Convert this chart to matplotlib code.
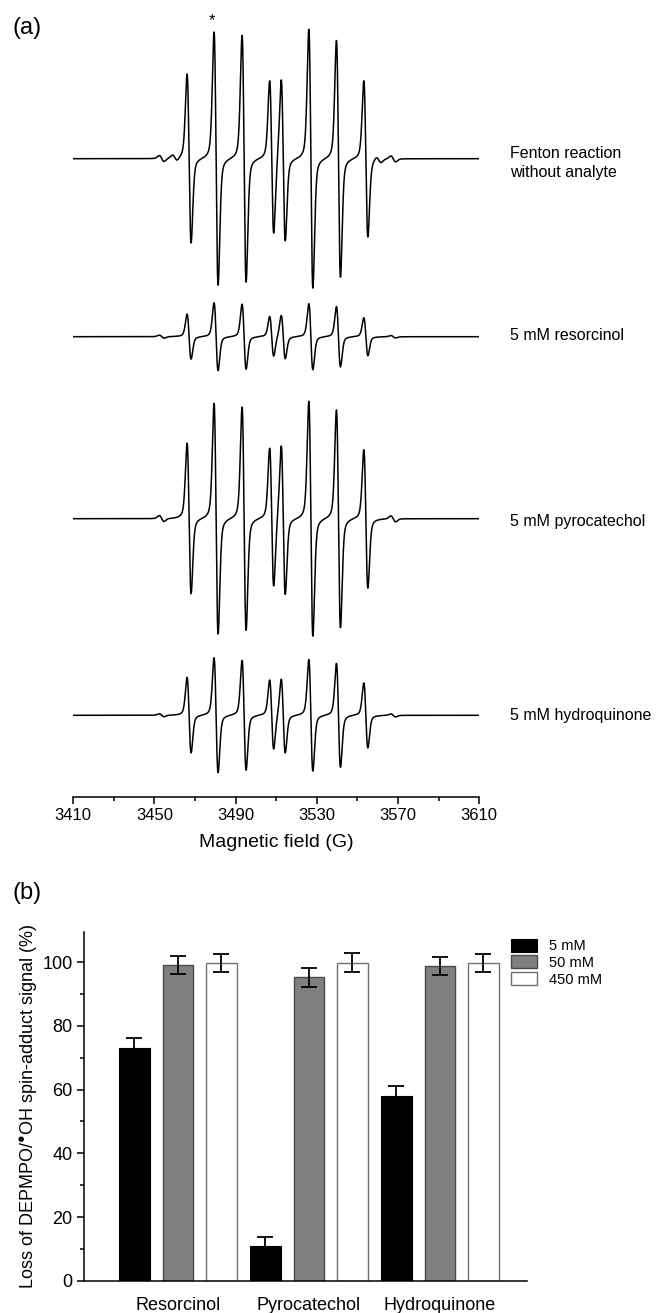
import numpy as np
import matplotlib
matplotlib.use("Agg")
import matplotlib.pyplot as plt
from matplotlib.ticker import MultipleLocator

plt.rcParams['font.family'] = ['Liberation Sans', 'DejaVu Sans']
plt.rcParams['mathtext.fontset'] = 'custom'
plt.rcParams['mathtext.rm'] = 'Liberation Sans'

# ---- panel (a): EPR spectra, DEPMPO/OH lines ----
line_pos = [3467.1, 3480.4, 3494.2, 3507.8, 3513.5, 3527.1, 3540.7, 3554.2]
amp_fenton = [84.5, 126.7, 123.5, 77.0, 81.3, 129.5, 118.4, 78.2]
amp_resorcinol = [22.5, 33.9, 32.5, 20.0, 21.8, 33.0, 30.2, 19.0]
amp_pyrocatechol = [75.3, 115.4, 111.7, 69.7, 75.0, 117.5, 108.9, 69.2]
amp_hydroquinone = [37.8, 57.5, 54.9, 34.9, 37.2, 55.8, 52.0, 32.5]

# weak satellite lines
sat_pos = [3453.6, 3460.1, 3560.5, 3567.7]
sat_fenton = [3.0, 3.0, 3.0, 3.0]
sat_resorcinol = [1.5, 0.0, 0.0, 1.2]
sat_pyrocatechol = [3.0, 0.0, 0.0, 3.0]
sat_hydroquinone = [1.5, 0.0, 0.0, 1.5]

spec_labels = ["Fenton reaction\nwithout analyte", "5 mM resorcinol",
               "5 mM pyrocatechol", "5 mM hydroquinone"]
spec_offsets = [638.3, 460.3, 278.3, 81.7]

# ---- panel (b): bar chart ----
compounds = ["Resorcinol", "Pyrocatechol", "Hydroquinone"]
conc_labels = ["5 mM", "50 mM", "450 mM"]
loss_5 = [73.0, 11.0, 58.1]
loss_50 = [99.2, 95.3, 98.8]
loss_450 = [99.8, 99.9, 99.9]
err_5 = [3.1, 2.8, 3.1]
err_50 = [2.9, 3.0, 2.8]
err_450 = [2.9, 2.9, 2.8]


def deriv_line(x, x0, a, sig=1.0, gam=1.7, eta=0.3):
    u = (x - x0) / sig
    g = -u * np.exp(-u ** 2 / 2) / np.exp(-0.5)
    v = (x - x0) / gam
    l = (-2 * v / (1 + v ** 2) ** 2) / 0.6495
    return a * ((1 - eta) * g + eta * l)


def spectrum(x, amps, samps):
    y = np.zeros_like(x)
    for p, a in zip(line_pos, amps):
        y += deriv_line(x, p, a)
    for p, a in zip(sat_pos, samps):
        y += deriv_line(x, p, a, sig=1.2, gam=1.8, eta=0.2)
    return y


W, H = 656, 1313
fig = plt.figure(figsize=(W / 100, H / 100), dpi=100)


def px_axes(x0, y0, x1, y1):
    return fig.add_axes([x0 / W, 1 - y1 / H, (x1 - x0) / W, (y1 - y0) / H])


ax1 = px_axes(73.2, 10, 479.1, 797)
field = np.linspace(3410, 3610, 8001)
all_amps = [amp_fenton, amp_resorcinol, amp_pyrocatechol, amp_hydroquinone]
all_sats = [sat_fenton, sat_resorcinol, sat_pyrocatechol, sat_hydroquinone]
label_dy = [-4, 1, -3, 0]
for amps, sats, off, lab, dy in zip(all_amps, all_sats, spec_offsets, spec_labels, label_dy):
    ax1.plot(field, spectrum(field, amps, sats) + off, color='black', lw=1.1)
    ax1.text(3625.0, off + dy, lab, fontsize=11.5, va='center', ha='left', linespacing=1.3)

ax1.text(3478.6, 776, "*", fontsize=12, ha='center', va='center')
ax1.set_xlim(3410, 3610)
ax1.set_ylim(0, 787)
ax1.set_yticks([])
for s in ['top', 'left', 'right']:
    ax1.spines[s].set_visible(False)
ax1.spines['bottom'].set_linewidth(1.1)
ax1.set_xticks(np.arange(3410, 3611, 40))
ax1.set_xticks(np.arange(3430, 3611, 40), minor=True)
ax1.tick_params(axis='x', which='major', length=5, width=1.1, labelsize=12, pad=3)
ax1.tick_params(axis='x', which='minor', length=3, width=1.1)
ax1.set_xlabel("Magnetic field (G)", fontsize=14, labelpad=8)
fig.text(12 / W, 1 - 28 / H, "(a)", fontsize=17, va='center', ha='left')

# ---- panel (b) ----
ax2 = px_axes(83.7, 931.7, 527.2, 1280.7)
xg = np.arange(len(compounds))
off = 0.332
bw = 0.233
ekw = dict(ecolor='black', elinewidth=1.3, capsize=5.5, capthick=1.3)
ax2.bar(xg - off, loss_5, bw, color='black', edgecolor='black', lw=0.8,
        label=conc_labels[0])
ax2.bar(xg, loss_50, bw, color='#808080', edgecolor='#4a4a4a', lw=1.0,
        label=conc_labels[1])
ax2.bar(xg + off, loss_450, bw, color='white', edgecolor='#707070', lw=1.0,
        label=conc_labels[2])
ax2.errorbar(xg - off, loss_5, yerr=err_5, fmt='none', **ekw)
ax2.errorbar(xg, loss_50, yerr=err_50, fmt='none', **ekw)
ax2.errorbar(xg + off, loss_450, yerr=err_450, fmt='none', **ekw)

ax2.set_xlim(-0.718, 2.667)
ax2.set_ylim(0, 109.6)
ax2.set_xticks(xg)
ax2.set_xticklabels(compounds, fontsize=13)
ax2.tick_params(axis='x', length=0, pad=12)
ax2.yaxis.set_major_locator(MultipleLocator(20))
ax2.yaxis.set_minor_locator(MultipleLocator(10))
ax2.tick_params(axis='y', which='major', length=5, width=1.1, labelsize=13, pad=3)
ax2.tick_params(axis='y', which='minor', length=3, width=1.1)
for s in ['top', 'right']:
    ax2.spines[s].set_visible(False)
for s in ['left', 'bottom']:
    ax2.spines[s].set_linewidth(1.1)
ax2.set_ylabel("Loss of DEPMPO/$^{\u25CF}$OH spin-adduct signal (%)",
               fontsize=13, labelpad=2)
ax2.legend(loc='upper left', bbox_to_anchor=(0.964, 0.98), frameon=False,
           fontsize=10.5, handlelength=1.75, handleheight=1.0, handletextpad=0.85,
           labelspacing=0.15, borderaxespad=0, borderpad=0)
fig.text(12 / W, 1 - 893 / H, "(b)", fontsize=17, va='center', ha='left')

fig.savefig("out.png", dpi=100)
